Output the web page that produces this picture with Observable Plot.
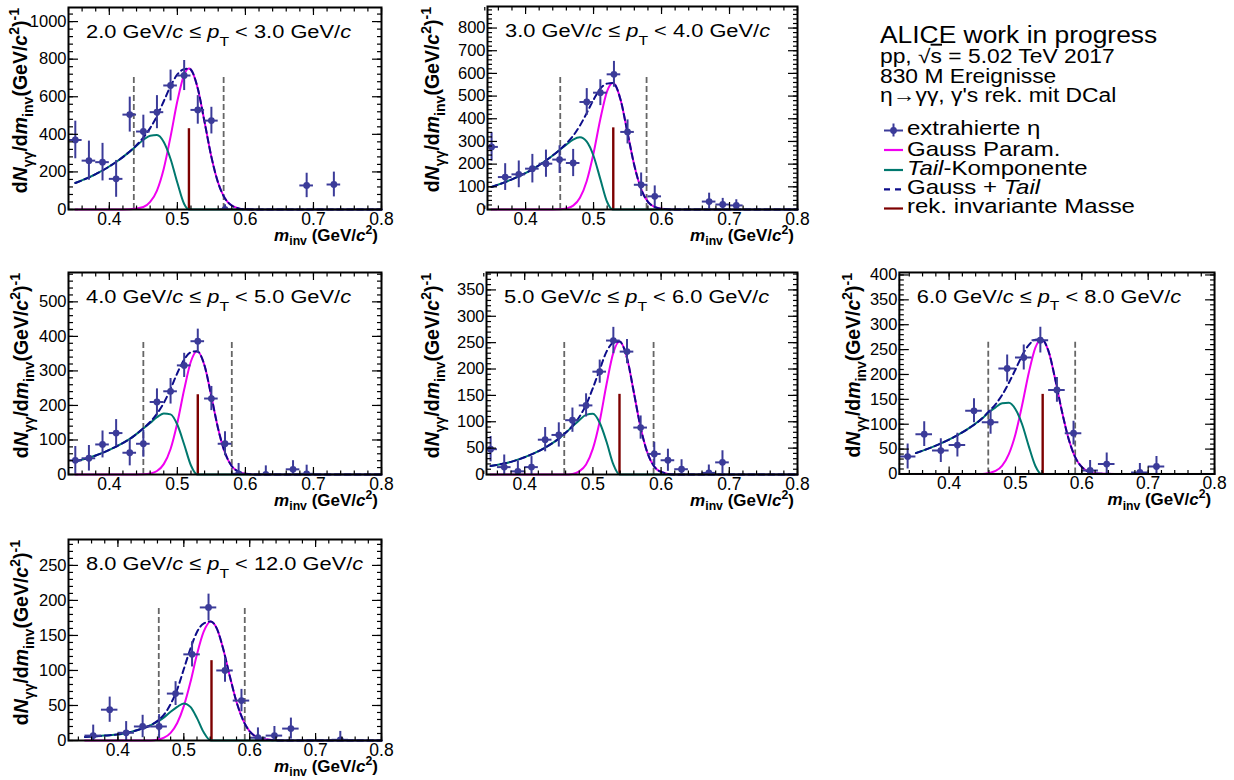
<!DOCTYPE html>
<html>
<head>
<meta charset="utf-8">
<script src="https://cdn.jsdelivr.net/npm/d3@7"></script>
<script src="https://cdn.jsdelivr.net/npm/@observablehq/plot@0.6"></script>
<style>
html, body { margin: 0; padding: 0; background: #fff; width: 1234px; height: 780px; overflow: hidden; }
#root { position: relative; width: 1234px; height: 780px; }
.panel { position: absolute; }
</style>
</head>
<body>
<div id="root"></div>
<script>
// ---------------- DATA ----------------
const ptLow  = ["2.0", "3.0", "4.0", "5.0", "6.0", "8.0"];
const ptHigh = ["3.0", "4.0", "5.0", "6.0", "8.0", "12.0"];

// extracted eta (points, stat. error)
const ptsX1 = [0.35,0.37,0.39,0.41,0.43,0.45,0.47,0.49,0.51,0.53,0.55,0.57,0.69,0.73];
const ptsY1 = [370,260,252,163,505,415,518,660,713,530,473,0,128,133];
const ptsE1 = [100,104,100,98,93,87,88,82,80,76,71,25,65,66];

const ptsX2 = [0.35,0.37,0.39,0.41,0.43,0.45,0.47,0.49,0.51,0.53,0.55,0.57,0.59,0.67,0.69,0.71];
const ptsY2 = [276,143,155,180,202,220,205,474,515,596,342,109,58,35,22,18];
const ptsE2 = [63,59,59,63,60,61,60,59,57,57,53,52,46,37,27,25];

const ptsX3 = [0.35,0.37,0.39,0.41,0.43,0.45,0.47,0.49,0.51,0.53,0.55,0.57,0.59,0.63,0.67,0.69];
const ptsY3 = [41,47,87,120,63,89,210,241,316,386,220,89,2,0,15,2];
const ptsE3 = [40,37,39,39,38,39,38,37,35,35,35,35,30,25,25,25];

const ptsX4 = [0.35,0.37,0.39,0.41,0.43,0.45,0.47,0.49,0.51,0.53,0.55,0.57,0.59,0.61,0.63,0.67,0.69];
const ptsY4 = [48,14,6,14,66,75,103,131,195,254,233,89,39,27,10,3,23];
const ptsE4 = [24,23,20,20,23,23,23,22,22,25,23,22,22,21,18,15,22];

const ptsX5 = [0.3375,0.3625,0.3875,0.4125,0.4375,0.4625,0.4875,0.5125,0.5375,0.5625,0.5875,0.6125,0.6375,0.6875,0.7125];
const ptsY5 = [35,80,47,58,127,104,212,234,269,169,82,7,20,3,15];
const ptsE5 = [25,25,24,24,24,24,27,25,26,25,24,20,22,18,20];

const ptsX6 = [0.3625,0.3875,0.4125,0.4375,0.4625,0.4875,0.5125,0.5375,0.5625,0.5875,0.6125,0.6375,0.6625,0.7375];
const ptsY6 = [7,44,11,20,20,67,123,190,100,57,4,7,17,1];
const ptsE6 = [15,18,16,16,17,17,18,19,17,16,14,13,15,12];

// fit curves (Gauss, tail component, Gauss + tail)
const fitX1  = [0.35,0.38,0.41,0.43,0.45,0.46,0.47,0.48,0.49,0.50,0.51,0.517,0.52,0.53,0.54,0.55,0.56,0.57,0.58,0.59,0.60,0.62,0.65,0.80];
const gauss1 = [0,0,0,1,13,40,101,217,388,577,718,750,744,644,465,280,141,59,21,6,1,0,0,0];
const tail1  = [141,188,253,308,370,393,396,359,269,142,29,0,0,0,0,0,0,0,0,0,0,0,0,0];
const sum1   = [141,188,253,309,383,433,497,576,657,719,747,750,744,644,465,280,141,59,21,6,1,0,0,0];

const fitX2  = [0.35,0.38,0.41,0.43,0.45,0.46,0.47,0.48,0.49,0.50,0.51,0.52,0.528,0.53,0.54,0.55,0.56,0.57,0.58,0.59,0.60,0.62,0.65,0.80];
const gauss2 = [0,0,0,0,1,5,17,52,126,248,399,522,558,556,481,338,194,90,34,11,3,0,0,0];
const tail2  = [99,133,177,216,262,286,308,318,299,236,134,33,0,0,0,0,0,0,0,0,0,0,0,0];
const sum2   = [99,133,177,216,263,291,325,370,425,484,533,555,558,556,481,338,194,90,34,11,3,0,0,0];

const fitX3  = [0.35,0.38,0.41,0.43,0.45,0.46,0.47,0.48,0.49,0.50,0.51,0.52,0.529,0.54,0.55,0.56,0.57,0.58,0.59,0.60,0.62,0.65,0.80];
const gauss3 = [0,0,0,0,1,3,10,30,74,150,246,328,357,315,226,132,63,24,8,2,0,0,0];
const tail3  = [38,55,81,103,133,149,166,177,174,144,87,26,0,0,0,0,0,0,0,0,0,0,0];
const sum3   = [38,55,81,103,134,152,176,207,248,294,333,354,357,315,226,132,63,24,8,2,0,0,0];

const fitX4  = [0.35,0.38,0.41,0.43,0.45,0.46,0.47,0.48,0.49,0.50,0.51,0.52,0.53,0.539,0.55,0.56,0.57,0.58,0.59,0.60,0.62,0.65,0.80];
const gauss4 = [0,0,0,0,0,0,1,6,19,49,101,171,231,252,221,156,89,41,15,5,0,0,0];
const tail4  = [16,24,38,51,68,79,91,103,113,115,98,62,19,0,0,0,0,0,0,0,0,0,0];
const sum4   = [16,24,38,51,68,79,92,109,132,164,199,233,250,252,221,156,89,41,15,5,0,0,0];

const fitX5  = [0.35,0.38,0.41,0.43,0.45,0.46,0.47,0.48,0.49,0.50,0.51,0.52,0.53,0.539,0.55,0.56,0.57,0.58,0.59,0.60,0.62,0.65,0.80];
const gauss5 = [0,0,0,0,0,2,6,17,40,80,138,203,254,271,246,190,126,71,34,14,1,0,0];
const tail5  = [42,57,76,92,112,124,134,142,143,130,100,56,16,0,0,0,0,0,0,0,0,0,0];
const sum5   = [42,57,76,92,112,126,140,159,183,210,238,259,270,271,246,190,126,71,34,14,1,0,0];

const fitX6  = [0.35,0.38,0.41,0.43,0.45,0.46,0.47,0.48,0.49,0.50,0.51,0.52,0.53,0.541,0.55,0.56,0.57,0.58,0.59,0.60,0.62,0.65,0.80];
const gauss6 = [0,0,0,0,0,1,4,11,25,49,83,123,155,170,160,130,91,55,29,13,2,0,0];
const tail6  = [5,7,10,15,22,27,33,41,48,53,48,32,12,0,0,0,0,0,0,0,0,0,0];
const sum6   = [5,7,10,15,22,28,37,52,73,102,131,155,167,170,160,130,91,55,29,13,2,0,0];

// reconstructed mass and integration window
const massX = [0.517, 0.529, 0.530, 0.539, 0.541, 0.542];
const massH = [430, 360, 231, 152, 160, 114];
const winLo = [0.436, 0.451, 0.450, 0.458, 0.459, 0.462];
const winHi = [0.568, 0.578, 0.580, 0.589, 0.590, 0.5925];
const winH  = [715, 593, 386, 253, 267, 190];

// axes
const xMin = [0.34, 0.344, 0.34, 0.344, 0.325, 0.325];
const xMax = 0.8;
const binHalf = [0.01, 0.01, 0.01, 0.01, 0.0125, 0.0125];
const yMax = [1075, 895, 585, 383, 405, 287];
const xMajor = [0.4, 0.5, 0.6, 0.7, 0.8];
const yMajor1 = [0, 200, 400, 600, 800, 1000];
const yMajor2 = [0, 100, 200, 300, 400, 500, 600, 700, 800];
const yMajor3 = [0, 100, 200, 300, 400, 500];
const yMajor4 = [0, 50, 100, 150, 200, 250, 300, 350];
const yMajor5 = [0, 50, 100, 150, 200, 250, 300, 350, 400];
const yMajor6 = [0, 50, 100, 150, 200, 250];
const yMinorStep = [40, 20, 20, 10, 10, 10];

// ---------------- LAYOUT / STYLE ----------------
const panelLeft = [0, 419, 0, 418, 831, 0];
const panelTop  = [0, -1, 265, 265, 265, 532];
const frameW    = [313, 310, 313, 311, 316, 313];
const frameH    = [202, 203, 202, 202, 202, 201];
const yTitleOff = [41, 48, 40, 47, 39, 40];

const FONT = '"Liberation Sans", Arial, Helvetica, sans-serif';
const COL = {pt: "#3b3b99", gauss: "#f000f0", tail: "#00786e", sum: "#0d0d8a", mass: "#7d0000", win: "#666666"};

const ptsX = [ptsX1, ptsX2, ptsX3, ptsX4, ptsX5, ptsX6];
const ptsY = [ptsY1, ptsY2, ptsY3, ptsY4, ptsY5, ptsY6];
const ptsE = [ptsE1, ptsE2, ptsE3, ptsE4, ptsE5, ptsE6];
const fitX = [fitX1, fitX2, fitX3, fitX4, fitX5, fitX6];
const gauss = [gauss1, gauss2, gauss3, gauss4, gauss5, gauss6];
const tail = [tail1, tail2, tail3, tail4, tail5, tail6];
const sum = [sum1, sum2, sum3, sum4, sum5, sum6];
const yMajor = [yMajor1, yMajor2, yMajor3, yMajor4, yMajor5, yMajor6];

function rich(sel, x, y, parts, o) {
  const size = o.size;
  let tr = `translate(${x},${y})`;
  if (o.rotate) tr += ` rotate(${o.rotate})`;
  if (o.sx) tr += ` scale(${o.sx},1)`;
  const t = sel.append("text").attr("transform", tr)
    .attr("font-family", FONT).attr("font-size", size)
    .attr("font-weight", o.weight || "normal")
    .attr("text-anchor", o.anchor || "start")
    .attr("fill", "black").style("white-space", "pre");
  let shift = 0;
  for (const p of parts) {
    const [str, st = ""] = typeof p === "string" ? [p] : p;
    const flags = st.split(" ");
    let target = 0;
    const ts = t.append("tspan").text(str);
    if (flags.includes("sub")) { target = (o.subShift || 0.32) * size; ts.attr("font-size", 0.72 * size); }
    if (flags.includes("sup")) { target = -0.42 * size; ts.attr("font-size", 0.72 * size); }
    if (target !== shift) { ts.attr("dy", target - shift); shift = target; }
    if (flags.includes("i")) ts.attr("font-style", "italic");
    if (flags.includes("ol")) ts.attr("text-decoration", "overline");
  }
  return t;
}

const root = document.getElementById("root");

for (let i = 0; i < 6; i++) {
  const fw = frameW[i], fh = frameH[i];
  const mL = 68, mT = 7, mR = 20, mB = 51;
  const pts = ptsX[i].map((x, k) => ({x, y: ptsY[i][k], e: ptsE[i][k]}));
  const fit = fitX[i].map((x, k) => ({x, g: gauss[i][k], t: tail[i][k], s: sum[i][k]}));
  const hw = binHalf[i];
  const xMinor = d3.range(0.34, 0.8001, 0.02);
  const yMinor = d3.range(0, yMax[i] + 0.001, yMinorStep[i]);
  const tk = (fn, ticks, anchor, size) =>
    fn(ticks, {anchor, tickSize: -size, fill: "none", stroke: "black", strokeWidth: 1.2, label: null});

  const plot = Plot.plot({
    width: mL + fw + mR, height: mT + fh + mB,
    marginLeft: mL, marginRight: mR, marginTop: mT, marginBottom: mB,
    x: {domain: [xMin[i], xMax]},
    y: {domain: [0, yMax[i]]},
    style: {fontFamily: FONT, fontSize: "17px", color: "black", background: "transparent", overflow: "visible"},
    marks: [
      Plot.ruleX([winLo[i], winHi[i]], {x: d => d, y1: 0, y2: winH[i], stroke: COL.win, strokeWidth: 1.8, strokeDasharray: "6,3"}),
      Plot.ruleX([massX[i]], {x: d => d, y1: 0, y2: massH[i], stroke: COL.mass, strokeWidth: 2.4}),
      Plot.line(fit, {x: "x", y: "g", stroke: COL.gauss, strokeWidth: 2, curve: "monotone-x"}),
      Plot.line(fit, {x: "x", y: "t", stroke: COL.tail, strokeWidth: 2, curve: "monotone-x"}),
      Plot.line(fit, {x: "x", y: "s", stroke: COL.sum, strokeWidth: 2, strokeDasharray: "6,4", curve: "monotone-x"}),
      Plot.ruleX(pts, {x: "x", y1: d => d.y - d.e, y2: d => d.y + d.e, stroke: COL.pt, strokeWidth: 2, clip: true}),
      Plot.ruleY(pts, {y: "y", x1: d => d.x - hw, x2: d => d.x + hw, stroke: COL.pt, strokeWidth: 2, clip: true}),
      Plot.dot(pts, {x: "x", y: "y", r: 3.4, fill: COL.pt, clip: true}),
      // tick marks (inside, mirrored)
      tk(Plot.axisX, xMajor, "bottom", 7), tk(Plot.axisX, xMinor, "bottom", 3.5),
      tk(Plot.axisX, xMajor, "top", 7), tk(Plot.axisX, xMinor, "top", 3.5),
      tk(Plot.axisY, yMajor[i], "left", 10), tk(Plot.axisY, yMinor, "left", 5),
      tk(Plot.axisY, yMajor[i], "right", 10), tk(Plot.axisY, yMinor, "right", 5),
      // tick labels
      Plot.axisX(xMajor, {anchor: "bottom", tickSize: 0, tickPadding: 3, tickFormat: d3.format(".1f"), label: null, fontSize: 17.5}),
      Plot.axisY(yMajor[i], {anchor: "left", tickSize: 0, tickPadding: 2, tickFormat: d3.format("d"), label: null, fontSize: 16.5}),
      Plot.frame({stroke: "black", strokeWidth: 2})
    ]
  });

  const svg = d3.select(plot);
  // panel title
  rich(svg, mL + 18, mT + 31,
    [`${ptLow[i]} GeV/`, ["c", "i"], " ≤ ", ["p", "i"], ["T", "sub"], ` < ${ptHigh[i]} GeV/`, ["c", "i"]],
    {size: 19, sx: 1.15, subShift: 0.4});
  // x title
  rich(svg, mL + fw - 3, mT + fh + 32,
    [["m", "i"], ["inv", "sub"], " (GeV/", ["c", "i"], ["2", "sup"], ")"],
    {size: 17, weight: "bold", anchor: "end", subShift: 0.26});
  // y title
  rich(svg, mL - yTitleOff[i], mT + 1,
    ["d", ["N", "i"], ["γγ", "sub"], "/d", ["m", "i"], ["inv", "sub"], "(GeV/", ["c", "i"], ["2", "sup"], ")", ["-1", "sup"]],
    {size: 19.5, weight: "bold", anchor: "end", rotate: -90});

  const div = document.createElement("div");
  div.className = "panel";
  div.style.left = panelLeft[i] + "px";
  div.style.top = panelTop[i] + "px";
  div.appendChild(plot);
  root.appendChild(div);
}

// ---------------- INFO + LEGEND ----------------
const info = d3.select(root).append("svg")
  .attr("width", 380).attr("height", 230)
  .style("position", "absolute").style("left", "854px").style("top", "0px");
const ox = -854;
rich(info, 880 + ox, 42.5, ["ALICE work in progress"], {size: 24, sx: 1.1});
rich(info, 880 + ox, 63, ["pp, ", "√", ["s", "ol"], " = 5.02 TeV 2017"], {size: 19.5, sx: 1.17});
rich(info, 880 + ox, 83, ["830 M Ereignisse"], {size: 19.5, sx: 1.17});
rich(info, 880 + ox, 102, ["η→γγ, γ's rek. mit DCal"], {size: 19.5, sx: 1.17});

const legendParts = [
  ["extrahierte η"],
  ["Gauss Param."],
  [["Tail", "i"], "-Komponente"],
  ["Gauss + ", ["Tail", "i"]],
  ["rek. invariante Masse"]
];
const legendBase = [135, 155.5, 175, 193.5, 213];
const legendSym = [130.5, 150, 170, 189.3, 208.5];
legendParts.forEach((p, k) => rich(info, 907 + ox, legendBase[k], p, {size: 20, sx: 1.2}));
const sx0 = 884 + ox, sx1 = 903 + ox;
// point marker
info.append("line").attr("x1", sx0).attr("x2", sx1).attr("y1", legendSym[0]).attr("y2", legendSym[0]).attr("stroke", COL.pt).attr("stroke-width", 2);
info.append("line").attr("x1", (sx0 + sx1) / 2).attr("x2", (sx0 + sx1) / 2).attr("y1", legendSym[0] - 7).attr("y2", legendSym[0] + 6).attr("stroke", COL.pt).attr("stroke-width", 2);
info.append("circle").attr("cx", (sx0 + sx1) / 2).attr("cy", legendSym[0]).attr("r", 3.4).attr("fill", COL.pt);
const symCols = [null, COL.gauss, COL.tail, COL.sum, COL.mass];
for (let k = 1; k < 5; k++) {
  info.append("line").attr("x1", sx0).attr("x2", sx1).attr("y1", legendSym[k]).attr("y2", legendSym[k])
    .attr("stroke", symCols[k]).attr("stroke-width", 2.2)
    .attr("stroke-dasharray", k === 3 ? "6,5" : null);
}
</script>
</body>
</html>
